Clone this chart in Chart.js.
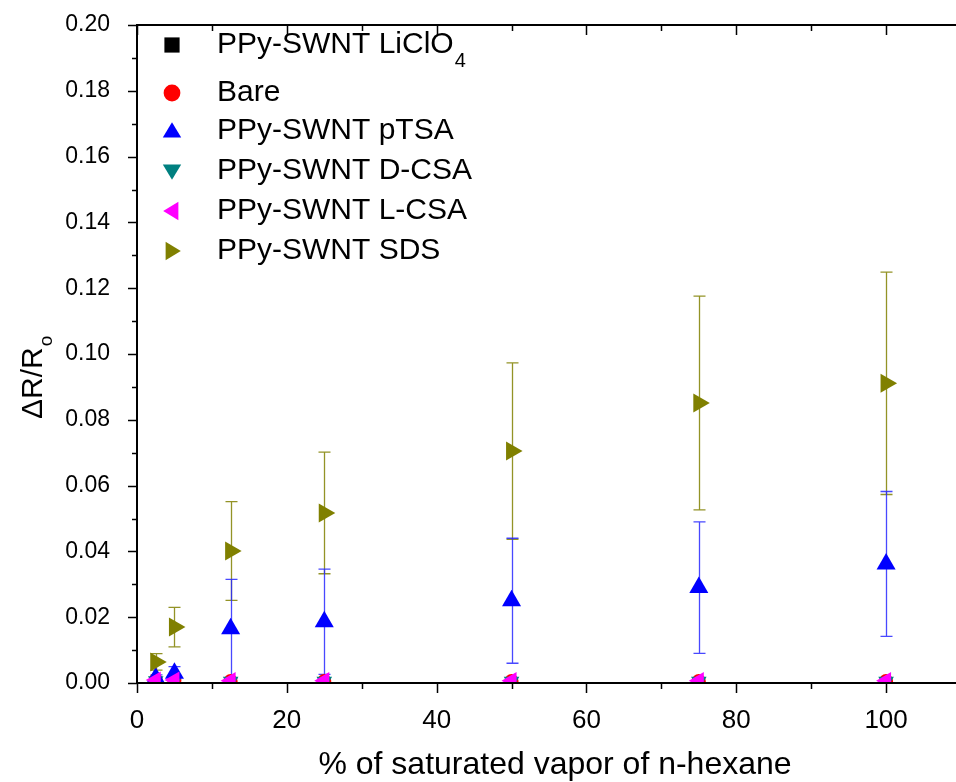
<!DOCTYPE html>
<html>
<head>
<meta charset="utf-8">
<script src="https://cdn.jsdelivr.net/npm/chart.js@4.4.1/dist/chart.umd.min.js"></script>
<style>
  html, body { margin: 0; padding: 0; background: #fff; overflow: hidden; }
  #wrap { width: 972px; height: 782px; }
</style>
</head>
<body>
<div id="wrap"><canvas id="sensorChart" width="972" height="782"></canvas></div>
<script>
// % of saturated vapor of n-hexane
const vapor = [2.5, 5, 12.5, 25, 50, 75, 100];

const liclo4 = [0.0008, 0.0008, 0.0005, 0.0005, 0.0005, 0.0005, 0.0005];
const bare = [0.0009, 0.0009, 0.0006, 0.0006, 0.0006, 0.0006, 0.0006];
const ptsa = [0.0015, 0.003, 0.0165, 0.0186, 0.025, 0.029, 0.0362];
const ptsaErr = [0.001, 0.002, 0.015, 0.016, 0.019, 0.020, 0.022];
const dcsa = [0.0007, 0.0007, 0.0005, 0.0005, 0.0005, 0.0005, 0.0005];
const lcsa = [0.0009, 0.0009, 0.0007, 0.0007, 0.0007, 0.0007, 0.0007];
const sds = [0.0064, 0.017, 0.0401, 0.0517, 0.0705, 0.0851, 0.0911];
const sdsErr = [0.0025, 0.006, 0.015, 0.0185, 0.0268, 0.0325, 0.0338];

const yTicks = [0, 0.02, 0.04, 0.06, 0.08, 0.10, 0.12, 0.14, 0.16, 0.18, 0.20];
const xTicks = [0, 20, 40, 60, 80, 100];

const legendItems = [
  { text: "PPy-SWNT LiClO", sub: "4", color: "#000000", style: "rect", rot: 0 },
  { text: "Bare", sub: "", color: "#ff0000", style: "circle", rot: 0 },
  { text: "PPy-SWNT pTSA", sub: "", color: "#0000ff", style: "triangle", rot: 0 },
  { text: "PPy-SWNT D-CSA", sub: "", color: "#008080", style: "triangle", rot: 180 },
  { text: "PPy-SWNT L-CSA", sub: "", color: "#ff00ff", style: "triangle", rot: 270 },
  { text: "PPy-SWNT SDS", sub: "", color: "#808000", style: "triangle", rot: 90 }
];
const legendY = [45, 93, 131, 171, 211, 251];

function pts(ys) {
  return vapor.map(function (x, i) { return { x: x, y: ys[i] }; });
}

function series(label, ys, color, style, rot, radius, order) {
  return {
    label: label,
    data: pts(ys),
    backgroundColor: color,
    borderColor: color,
    borderWidth: 0,
    pointStyle: style,
    rotation: rot,
    pointRadius: radius,
    pointHoverRadius: radius,
    showLine: false,
    order: order
  };
}

// error bars, drawn behind the markers
const errorBars = {
  id: "errorBars",
  beforeDatasetsDraw(chart) {
    const ctx = chart.ctx;
    const xs = chart.scales.x, ys = chart.scales.y;
    const sets = [
      { vals: sds, err: sdsErr, color: "rgba(128,128,0,0.85)" },
      { vals: ptsa, err: ptsaErr, color: "rgba(40,40,255,0.85)" }
    ];
    ctx.save();
    ctx.beginPath();
    ctx.rect(chart.chartArea.left, chart.chartArea.top - 2, chart.chartArea.width, chart.chartArea.height + 2);
    ctx.clip();
    ctx.lineWidth = 1.3;
    sets.forEach(function (s) {
      ctx.strokeStyle = s.color;
      vapor.forEach(function (xv, i) {
        const px = Math.round(xs.getPixelForValue(xv)) + 0.5;
        const top = ys.getPixelForValue(s.vals[i] + s.err[i]);
        const bot = ys.getPixelForValue(Math.max(0, s.vals[i] - s.err[i]));
        ctx.beginPath();
        ctx.moveTo(px, top);
        ctx.lineTo(px, bot);
        ctx.moveTo(px - 6, top);
        ctx.lineTo(px + 6, top);
        ctx.moveTo(px - 6, bot);
        ctx.lineTo(px + 6, bot);
        ctx.stroke();
      });
    });
    ctx.restore();
  }
};

// frame, major and minor ticks, axis titles, legend
const frame = {
  id: "frame",
  afterDraw(chart) {
    const ctx = chart.ctx;
    const a = chart.chartArea;
    const xs = chart.scales.x, ys = chart.scales.y;
    ctx.save();
    ctx.strokeStyle = "#000";
    ctx.lineWidth = 2;
    ctx.strokeRect(a.left, a.top, a.right - a.left, a.bottom - a.top);

    ctx.lineWidth = 1.5;
    ctx.beginPath();
    for (let v = 0; v <= 110; v += 10) {
      const px = Math.round(xs.getPixelForValue(v)) + 0.5;
      const len = v % 20 === 0 ? 10 : 6;
      ctx.moveTo(px, a.bottom);
      ctx.lineTo(px, a.bottom + len);
      ctx.moveTo(px, a.top);
      ctx.lineTo(px, a.top + len);
    }
    for (let k = 0; k <= 20; k++) {
      const py = Math.round(ys.getPixelForValue(k / 100)) + 0.5;
      const len = k % 2 === 0 ? 9 : 5;
      ctx.moveTo(a.left, py);
      ctx.lineTo(a.left - len, py);
    }
    ctx.stroke();

    // x title
    ctx.fillStyle = "#000";
    ctx.textAlign = "center";
    ctx.textBaseline = "alphabetic";
    ctx.font = "32px 'Liberation Sans', Arial, sans-serif";
    ctx.fillText("% of saturated vapor of n-hexane", 555, 774);

    // y title with subscript
    ctx.save();
    ctx.translate(42, 419);
    ctx.rotate(-Math.PI / 2);
    ctx.textAlign = "left";
    ctx.font = "30px 'Liberation Sans', Arial, sans-serif";
    const main = "\u0394R/R";
    const w = ctx.measureText(main).width;
    ctx.fillText(main, 0, 0);
    ctx.font = "19px 'Liberation Sans', Arial, sans-serif";
    ctx.fillText("o", w + 1, 10);
    ctx.restore();

    // legend
    legendItems.forEach(function (it, i) {
      const y = legendY[i];
      drawMarker(ctx, it.style, it.color, it.rot, 172, y, 8);
      ctx.fillStyle = "#000";
      ctx.textAlign = "left";
      ctx.textBaseline = "middle";
      ctx.font = "30px 'Liberation Sans', Arial, sans-serif";
      ctx.fillText(it.text, 217, y);
      if (it.sub) {
        const tw = ctx.measureText(it.text).width;
        ctx.font = "20px 'Liberation Sans', Arial, sans-serif";
        ctx.fillText(it.sub, 217 + tw + 1, y + 16);
      }
    });
    ctx.restore();
  }
};

function drawMarker(ctx, style, color, rot, x, y, r) {
  ctx.save();
  ctx.fillStyle = color;
  ctx.translate(x, y);
  ctx.rotate(rot * Math.PI / 180);
  ctx.beginPath();
  if (style === "rect") {
    ctx.rect(-r * 0.95, -r * 0.95, r * 1.9, r * 1.9);
  } else if (style === "circle") {
    ctx.arc(0, 0, r * 1.05, 0, Math.PI * 2);
  } else {
    ctx.moveTo(0, -r * 1.1);
    ctx.lineTo(r * 1.15, r * 0.8);
    ctx.lineTo(-r * 1.15, r * 0.8);
    ctx.closePath();
  }
  ctx.fill();
  ctx.restore();
}

new Chart(document.getElementById("sensorChart"), {
  type: "scatter",
  data: {
    datasets: [
      series("PPy-SWNT LiClO4", liclo4, "#000000", "rect", 0, 6, 5),
      series("Bare", bare, "#ff0000", "circle", 0, 7, 4),
      series("PPy-SWNT pTSA", ptsa, "#0000ff", "triangle", 0, 11, 2),
      series("PPy-SWNT D-CSA", dcsa, "#008080", "triangle", 180, 9, 3),
      series("PPy-SWNT L-CSA", lcsa, "#ff00ff", "triangle", 270, 10, 0),
      series("PPy-SWNT SDS", sds, "#808000", "triangle", 90, 11, 1)
    ]
  },
  options: {
    responsive: false,
    animation: false,
    layout: { padding: { top: 25, right: 2, left: 0, bottom: 0 } },
    plugins: {
      legend: { display: false },
      tooltip: { enabled: false }
    },
    scales: {
      x: {
        type: "linear",
        min: 0,
        max: 110,
        afterFit: function (s) {
          s.height = 99;
          s.paddingLeft = 0;
          s.paddingRight = 0;
        },
        afterBuildTicks: function (s) { s.ticks = xTicks.map(function (v) { return { value: v }; }); },
        grid: { display: false, drawTicks: false },
        border: { display: false },
        ticks: {
          padding: 22,
          color: "#000",
          font: { family: "'Liberation Sans', Arial, sans-serif", size: 26 }
        }
      },
      y: {
        min: 0,
        max: 0.2,
        afterFit: function (s) {
          s.width = 137;
          s.paddingTop = 0;
          s.paddingBottom = 0;
        },
        afterBuildTicks: function (s) { s.ticks = yTicks.map(function (v) { return { value: v }; }); },
        grid: { display: false, drawTicks: false },
        border: { display: false },
        ticks: {
          padding: 27,
          color: "#000",
          font: { family: "'Liberation Sans', Arial, sans-serif", size: 23 },
          callback: function (v) { return v.toFixed(2); }
        }
      }
    }
  },
  plugins: [errorBars, frame]
});
</script>
</body>
</html>
